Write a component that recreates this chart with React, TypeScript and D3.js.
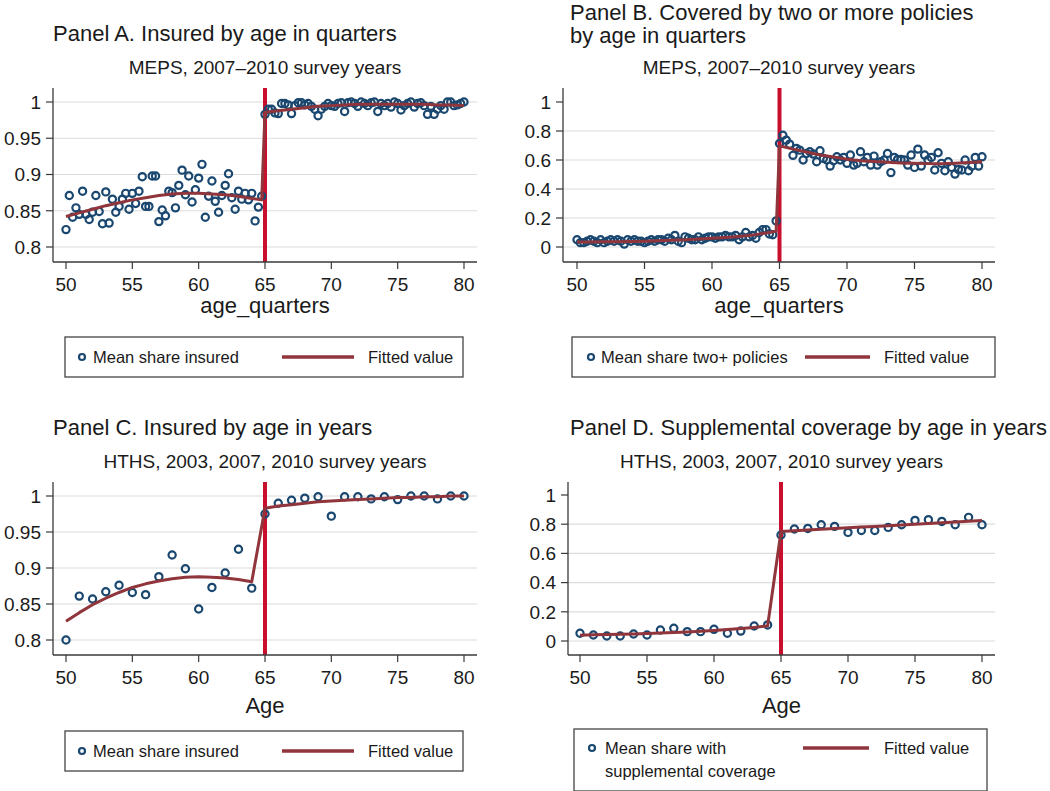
import React from "react";
import * as d3 from "d3";

// ---------- data ----------
const quarterAges: number[] = d3.range(0, 121).map((i) => 50 + i / 4);
const yearAges: number[] = d3.range(50, 81);

const insuredQuarterly: number[] = [
  0.824, 0.871, 0.841, 0.854, 0.845, 0.877, 0.845, 0.838, 0.848, 0.871,
  0.849, 0.832, 0.876, 0.833, 0.866, 0.848, 0.856, 0.866, 0.874, 0.852,
  0.874, 0.860, 0.877, 0.897, 0.856, 0.856, 0.898, 0.898, 0.835, 0.851,
  0.843, 0.877, 0.875, 0.854, 0.885, 0.906, 0.872, 0.898, 0.862, 0.879,
  0.895, 0.914, 0.841, 0.870, 0.891, 0.863, 0.848, 0.871, 0.885, 0.901,
  0.868, 0.852, 0.877, 0.866, 0.874, 0.865, 0.874, 0.836, 0.855, 0.870,
  0.983, 0.990, 0.990, 0.985, 0.984, 0.998, 0.998, 0.996, 0.984, 0.995,
  0.999, 0.999, 0.996, 0.998, 0.994, 0.990, 0.981, 0.990, 0.994, 0.998,
  0.995, 0.994, 0.998, 0.999, 0.987, 0.999, 1.000, 0.998, 0.994, 1.000,
  0.998, 0.995, 0.999, 1.000, 0.987, 0.998, 0.995, 0.998, 0.993, 1.000,
  0.998, 0.989, 0.995, 0.998, 1.000, 0.993, 0.998, 0.999, 0.995, 0.983,
  0.994, 0.983, 0.990, 0.995, 0.990, 1.000, 1.000, 0.995, 0.996, 0.998,
  1.000,
];

const twoPlusQuarterly: number[] = [
  0.05, 0.03, 0.03, 0.04, 0.05, 0.04, 0.03, 0.05, 0.03, 0.04,
  0.05, 0.04, 0.05, 0.04, 0.02, 0.05, 0.04, 0.05, 0.04, 0.04,
  0.03, 0.04, 0.05, 0.04, 0.05, 0.05, 0.04, 0.06, 0.05, 0.08,
  0.04, 0.03, 0.07, 0.06, 0.05, 0.05, 0.07, 0.05, 0.06, 0.07,
  0.07, 0.06, 0.07, 0.07, 0.08, 0.07, 0.07, 0.08, 0.05, 0.07,
  0.10, 0.07, 0.08, 0.06, 0.10, 0.12, 0.12, 0.09, 0.085, 0.18,
  0.714, 0.771, 0.737, 0.709, 0.632, 0.680, 0.668, 0.600, 0.645, 0.657,
  0.641, 0.588, 0.664, 0.611, 0.600, 0.558, 0.595, 0.622, 0.600, 0.618,
  0.577, 0.634, 0.565, 0.577, 0.657, 0.588, 0.618, 0.565, 0.627, 0.565,
  0.588, 0.600, 0.645, 0.513, 0.618, 0.604, 0.604, 0.600, 0.565, 0.634,
  0.549, 0.675, 0.558, 0.634, 0.600, 0.618, 0.531, 0.650, 0.577, 0.526,
  0.588, 0.549, 0.503, 0.535, 0.531, 0.600, 0.526, 0.558, 0.618, 0.558,
  0.622,
];

const insuredYearly: number[] = [
  0.800, 0.861, 0.857, 0.867, 0.876, 0.866, 0.863, 0.888, 0.918, 0.899,
  0.843, 0.873, 0.893, 0.926, 0.872, 0.975, 0.990, 0.994, 0.997, 0.999,
  0.972, 0.999, 0.999, 0.996, 0.999, 0.995, 1.000, 1.000, 0.996, 1.000,
  1.000,
];

const supplementalYearly: number[] = [
  0.053, 0.041, 0.034, 0.034, 0.048, 0.041, 0.075, 0.087, 0.064, 0.064,
  0.080, 0.053, 0.068, 0.103, 0.110, 0.726, 0.767, 0.771, 0.796, 0.785,
  0.744, 0.757, 0.757, 0.778, 0.796, 0.826, 0.831, 0.819, 0.796, 0.847,
  0.796,
];

// fitted values
const fitQuarterAges: number[] = [
  50, 51, 52, 53, 54, 55, 56, 57, 58, 59, 60, 61, 62, 63, 64, 64.75,
  65, 66, 67, 68, 69, 70, 71, 72, 73, 74, 75, 76, 77, 78, 79, 80,
];
const fitInsuredQuarterly: number[] = [
  0.842, 0.847, 0.852, 0.857, 0.861, 0.865, 0.868, 0.871, 0.873, 0.874, 0.874,
  0.873, 0.872, 0.870, 0.867, 0.865,
  0.986, 0.988, 0.990, 0.992, 0.994, 0.995, 0.996, 0.997, 0.997, 0.997, 0.997,
  0.997, 0.997, 0.996, 0.996, 0.995,
];
const fitTwoPlusQuarterly: number[] = [
  0.035, 0.035, 0.036, 0.037, 0.038, 0.040, 0.043, 0.046, 0.050, 0.055, 0.060,
  0.066, 0.073, 0.082, 0.097, 0.108,
  0.698, 0.675, 0.655, 0.635, 0.620, 0.605, 0.595, 0.590, 0.585, 0.580, 0.577,
  0.575, 0.575, 0.578, 0.582, 0.588,
];
const fitInsuredYearly: number[] = [
  0.826, 0.838, 0.849, 0.858, 0.866, 0.873, 0.878, 0.882, 0.885, 0.887, 0.888,
  0.887, 0.886, 0.884, 0.881,
  0.983, 0.986, 0.988, 0.990, 0.992, 0.993, 0.994, 0.995, 0.996, 0.997, 0.998,
  0.998, 0.999, 0.999, 1.000, 1.000,
];
const fitSupplementalYearly: number[] = [
  0.040, 0.042, 0.044, 0.046, 0.048, 0.051, 0.054, 0.058, 0.062, 0.067, 0.072,
  0.078, 0.085, 0.093, 0.103,
  0.750, 0.755, 0.760, 0.765, 0.770, 0.775, 0.780, 0.785, 0.790, 0.795, 0.800,
  0.805, 0.810, 0.815, 0.820, 0.825,
];

const xTicks: number[] = [50, 55, 60, 65, 70, 75, 80];
const yTicksHigh: number[] = [0.8, 0.85, 0.9, 0.95, 1];
const yTicksShare: number[] = [0, 0.2, 0.4, 0.6, 0.8, 1];
const gridShare: number[] = [0, 0.2, 0.4, 0.6, 0.8];

// ---------- style ----------
const FONT = "'Liberation Sans', Arial, Helvetica, sans-serif";
const NAVY = "#1a476f";
const MAROON = "#90353b";
const RED = "#c8102e";
const GRID = "#dcdcdc";
const AXIS = "#3a3a3a";
const TEXT = "#1a1a1a";

type LegendCfg = {
  box: [number, number, number, number]; // x, y, w, h
  markerX: number;
  textX: number;
  textLines: string[];
  lineX: [number, number];
  fitX: number;
  rowY: number;
};

type PanelCfg = {
  ages: number[];
  values: number[];
  fitAges: number[];
  fitValues: number[];
  yDomain: [number, number];
  yRange: [number, number];
  xRange: [number, number];
  axisX: number;
  right: number;
  top: number;
  bottom: number;
  yTicks: number[];
  grid: number[];
  titleX: number;
  titleLines: string[];
  titleBaseline: number;
  subtitle: string;
  subtitleBaseline: number;
  xLabel: string;
  xLabelBaseline: number;
  legend: LegendCfg;
};

const fmt = (v: number) => String(+v.toFixed(2));

function Panel({ c }: { c: PanelCfg }) {
  const x = d3.scaleLinear().domain([50, 80]).range(c.xRange);
  const y = d3.scaleLinear().domain(c.yDomain).range(c.yRange);
  const line = d3
    .line<number>()
    .x((_, i) => x(c.fitAges[i]))
    .y((d) => y(d));
  const mid = (c.axisX + c.right) / 2;
  const L = c.legend;
  const nTitle = c.titleLines.length;
  return (
    <g fontFamily={FONT} fill={TEXT}>
      {c.titleLines.map((t, i) => (
        <text
          key={i}
          x={c.titleX}
          y={c.titleBaseline - (nTitle - 1 - i) * 23}
          fontSize={22}
        >
          {t}
        </text>
      ))}
      <text x={mid} y={c.subtitleBaseline} fontSize={19} textAnchor="middle">
        {c.subtitle}
      </text>
      {/* grid */}
      {c.grid.map((t) => (
        <line
          key={"g" + t}
          x1={c.axisX}
          x2={c.right}
          y1={y(t)}
          y2={y(t)}
          stroke={GRID}
          strokeWidth={1.2}
        />
      ))}
      {/* cutoff line */}
      <line
        x1={x(65)}
        x2={x(65)}
        y1={c.top}
        y2={c.bottom}
        stroke={RED}
        strokeWidth={4}
      />
      {/* points */}
      {c.values.map((v, i) => (
        <circle
          key={"p" + i}
          cx={x(c.ages[i])}
          cy={y(v)}
          r={3.6}
          fill="none"
          stroke={NAVY}
          strokeWidth={2.2}
        />
      ))}
      {/* fit */}
      <path
        d={line(c.fitValues) || ""}
        fill="none"
        stroke={MAROON}
        strokeWidth={3}
        strokeLinejoin="round"
      />
      {/* axes */}
      <line x1={c.axisX} x2={c.axisX} y1={c.top} y2={c.bottom} stroke={AXIS} strokeWidth={1.3} />
      <line x1={c.axisX} x2={c.right} y1={c.bottom} y2={c.bottom} stroke={AXIS} strokeWidth={1.3} />
      {c.yTicks.map((t) => (
        <g key={"y" + t}>
          <line
            x1={c.axisX - 7}
            x2={c.axisX}
            y1={y(t)}
            y2={y(t)}
            stroke={AXIS}
            strokeWidth={1.2}
          />
          <text
            x={c.axisX - 12}
            y={y(t)}
            dy="0.36em"
            fontSize={19}
            textAnchor="end"
          >
            {fmt(t)}
          </text>
        </g>
      ))}
      {xTicks.map((t) => (
        <g key={"x" + t}>
          <line
            x1={x(t)}
            x2={x(t)}
            y1={c.bottom}
            y2={c.bottom + 7}
            stroke={AXIS}
            strokeWidth={1.2}
          />
          <text x={x(t)} y={c.bottom + 29} fontSize={19} textAnchor="middle">
            {t}
          </text>
        </g>
      ))}
      <text x={mid} y={c.xLabelBaseline} fontSize={22} textAnchor="middle">
        {c.xLabel}
      </text>
      {/* legend */}
      <rect
        x={L.box[0]}
        y={L.box[1]}
        width={L.box[2]}
        height={L.box[3]}
        fill="#fff"
        stroke="#444"
        strokeWidth={1.3}
      />
      <circle
        cx={L.markerX}
        cy={L.rowY - 6}
        r={3}
        fill="none"
        stroke={NAVY}
        strokeWidth={2.2}
      />
      {L.textLines.map((t, i) => (
        <text key={"l" + i} x={L.textX} y={L.rowY + i * 23} fontSize={16.5}>
          {t}
        </text>
      ))}
      <line
        x1={L.lineX[0]}
        x2={L.lineX[1]}
        y1={L.rowY - 6}
        y2={L.rowY - 6}
        stroke={MAROON}
        strokeWidth={3.5}
      />
      <text x={L.fitX} y={L.rowY} fontSize={16.5}>
        Fitted value
      </text>
    </g>
  );
}

const panels: PanelCfg[] = [
  {
    ages: quarterAges,
    values: insuredQuarterly,
    fitAges: fitQuarterAges,
    fitValues: fitInsuredQuarterly,
    yDomain: [0.8, 1],
    yRange: [247, 102],
    xRange: [66, 464],
    axisX: 53,
    right: 477,
    top: 88,
    bottom: 262,
    yTicks: yTicksHigh,
    grid: yTicksHigh,
    titleX: 53,
    titleLines: ["Panel A. Insured by age in quarters"],
    titleBaseline: 41,
    subtitle: "MEPS, 2007–2010 survey years",
    subtitleBaseline: 74,
    xLabel: "age_quarters",
    xLabelBaseline: 313,
    legend: {
      box: [65, 337, 398, 40],
      markerX: 82,
      textX: 93,
      textLines: ["Mean share insured"],
      lineX: [282, 354],
      fitX: 368,
      rowY: 363,
    },
  },
  {
    ages: quarterAges,
    values: twoPlusQuarterly,
    fitAges: fitQuarterAges,
    fitValues: fitTwoPlusQuarterly,
    yDomain: [0, 1],
    yRange: [247, 102],
    xRange: [577, 982],
    axisX: 563,
    right: 995,
    top: 88,
    bottom: 262,
    yTicks: yTicksShare,
    grid: gridShare,
    titleX: 570,
    titleLines: ["Panel B. Covered by two or more policies", "by age in quarters"],
    titleBaseline: 43,
    subtitle: "MEPS, 2007–2010 survey years",
    subtitleBaseline: 74,
    xLabel: "age_quarters",
    xLabelBaseline: 313,
    legend: {
      box: [572, 337, 423, 40],
      markerX: 591,
      textX: 601,
      textLines: ["Mean share two+ policies"],
      lineX: [805, 870],
      fitX: 884,
      rowY: 363,
    },
  },
  {
    ages: yearAges,
    values: insuredYearly,
    fitAges: yearAges,
    fitValues: fitInsuredYearly,
    yDomain: [0.8, 1],
    yRange: [640, 496],
    xRange: [66, 464],
    axisX: 53,
    right: 477,
    top: 482,
    bottom: 655,
    yTicks: yTicksHigh,
    grid: yTicksHigh,
    titleX: 53,
    titleLines: ["Panel C. Insured by age in years"],
    titleBaseline: 435,
    subtitle: "HTHS, 2003, 2007, 2010 survey years",
    subtitleBaseline: 468,
    xLabel: "Age",
    xLabelBaseline: 713,
    legend: {
      box: [65, 731, 398, 40],
      markerX: 82,
      textX: 93,
      textLines: ["Mean share insured"],
      lineX: [282, 354],
      fitX: 368,
      rowY: 757,
    },
  },
  {
    ages: yearAges,
    values: supplementalYearly,
    fitAges: yearAges,
    fitValues: fitSupplementalYearly,
    yDomain: [0, 1],
    yRange: [641, 495],
    xRange: [580, 982],
    axisX: 568,
    right: 995,
    top: 482,
    bottom: 655,
    yTicks: yTicksShare,
    grid: gridShare,
    titleX: 570,
    titleLines: ["Panel D. Supplemental coverage by age in years"],
    titleBaseline: 435,
    subtitle: "HTHS, 2003, 2007, 2010 survey years",
    subtitleBaseline: 468,
    xLabel: "Age",
    xLabelBaseline: 713,
    legend: {
      box: [574, 729, 413, 62],
      markerX: 592,
      textX: 605,
      textLines: ["Mean share with", "supplemental coverage"],
      lineX: [803, 869],
      fitX: 884,
      rowY: 754,
    },
  },
];

export default function App() {
  return (
    <div style={{ position: "absolute", left: 0, top: 0 }}>
      <svg width={1050} height={791} style={{ display: "block", background: "#fff" }}>
        <rect width={1050} height={791} fill="#fff" />
        {panels.map((c, i) => (
          <Panel key={i} c={c} />
        ))}
      </svg>
    </div>
  );
}
